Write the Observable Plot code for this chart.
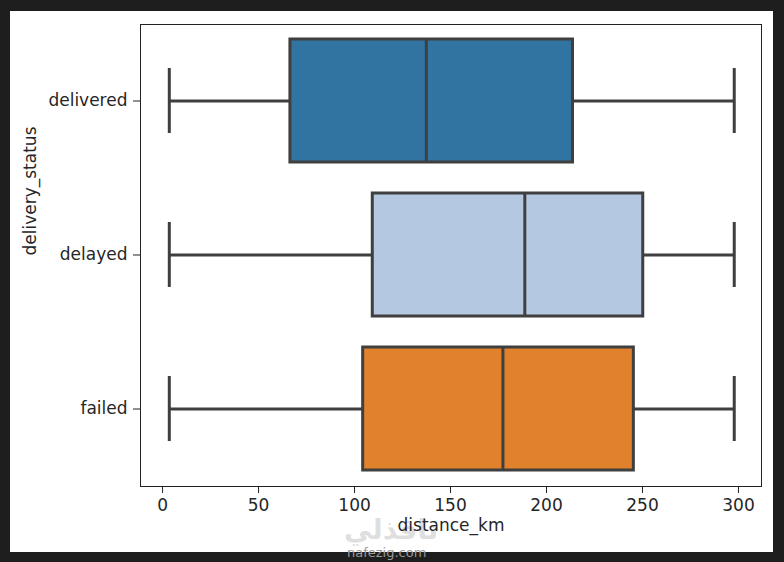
<!DOCTYPE html>
<html>
<head>
<meta charset="utf-8">
<script src="https://cdn.jsdelivr.net/npm/d3@7"></script>
<script src="https://cdn.jsdelivr.net/npm/@observablehq/plot@0.6"></script>
<style>
  html, body { margin: 0; padding: 0; background: #1e1e1e; width: 784px; height: 562px; overflow: hidden; }
  #card { position: absolute; left: 10px; top: 11px; width: 763px; height: 541px; background: #fff; }
  .wm1 { position: absolute; left: 344px; top: 514px; font-family: "Noto Sans", "DejaVu Sans", sans-serif; font-size: 28px; font-weight: bold; color: #000; opacity: 0.12; line-height: 1; }
  .wm2 { position: absolute; left: 347px; top: 546px; font-family: "DejaVu Sans", sans-serif; font-size: 13px; color: #9a9a9a; line-height: 1; }
</style>
</head>
<body>
<div id="card"></div>
<div class="wm1" dir="rtl">نافذلي</div>
<div class="wm2">nafezig.com</div>
<script>
const statuses = ["delivered", "delayed", "failed"];
const whiskerLow = [3.5, 3.5, 3.5];
const q1 = [66.6, 109.5, 104.5];
const median = [137.4, 188.7, 177.3];
const q3 = [213.8, 250.4, 245.5];
const whiskerHigh = [297.8, 297.8, 297.8];
const colors = ["#3274a1", "#b5c8e1", "#e1812c"];
const xTicks = [0, 50, 100, 150, 200, 250, 300];

const rows = statuses.map((s, i) => ({
  status: s, lo: whiskerLow[i], q1: q1[i], med: median[i], q3: q3[i], hi: whiskerHigh[i]
}));

const edge = "#3f3f3f";
const font = "DejaVu Sans";

const chart = Plot.plot({
  width: 763,
  height: 541,
  marginLeft: 130,
  marginRight: 12,
  marginTop: 13,
  marginBottom: 66,
  style: { fontFamily: font, fontSize: "17px", background: "#fff", color: "#262626" },
  x: { domain: [-11.5, 312], label: null },
  y: { domain: statuses, paddingInner: 0.2, paddingOuter: 0.1, label: null },
  color: { domain: statuses, range: colors },
  marks: [
    Plot.ruleY(rows, { y: "status", x1: "lo", x2: "hi", stroke: edge, strokeWidth: 3 }),
    Plot.barX(rows, { y: "status", x1: "q1", x2: "q3", fill: "status", stroke: edge, strokeWidth: 3 }),
    Plot.tickX(rows, { y: "status", x: "med", stroke: edge, strokeWidth: 3 }),
    Plot.tickX(rows, { y: "status", x: "lo", stroke: edge, strokeWidth: 3, insetTop: 29, insetBottom: 29 }),
    Plot.tickX(rows, { y: "status", x: "hi", stroke: edge, strokeWidth: 3, insetTop: 29, insetBottom: 29 }),
    Plot.frame({ stroke: "#222", strokeWidth: 1 }),
    Plot.axisX({ ticks: xTicks, tickSize: 7, tickPadding: 5, tickFormat: d3.format("d"), label: null, fontSize: 17, stroke: "#222" }),
    Plot.axisY({ tickSize: 7, tickPadding: 6, label: null, fontSize: 17, stroke: "#222" }),
    Plot.text(["distance_km"], { frameAnchor: "bottom", dy: 44, text: d => d, fontSize: 17, fill: "#262626" }),
    Plot.text(["delivery_status"], { frameAnchor: "left", dx: -110, rotate: -90, text: d => d, fontSize: 17, fill: "#262626" })
  ]
});
document.getElementById("card").appendChild(chart);
</script>
</body>
</html>
